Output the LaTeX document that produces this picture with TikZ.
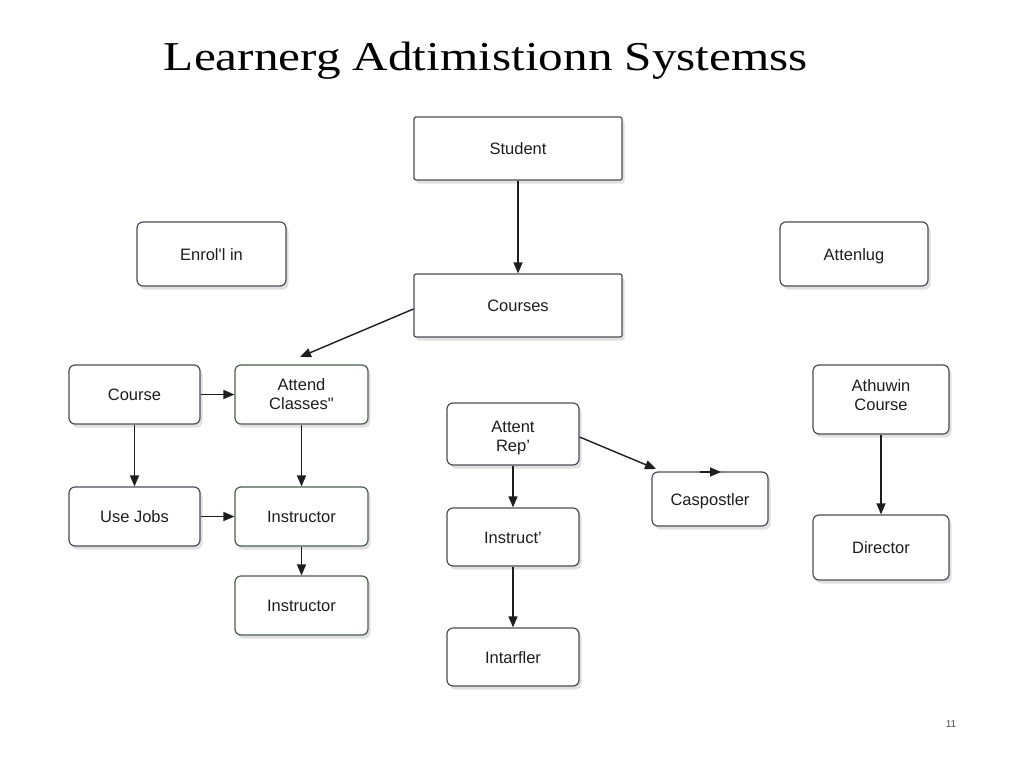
\documentclass[tikz,border=0pt]{standalone}
\usepackage{fontspec}
\setmainfont{Liberation Sans}
\newfontfamily\titlefont{Liberation Serif}
\usetikzlibrary{arrows.meta,shadows}
\definecolor{edge}{HTML}{4C4C58}
\definecolor{greenedge}{HTML}{4E5E4E}
\definecolor{ink}{HTML}{1E1E1E}
\tikzset{
  box/.style={draw=edge, line width=1.2pt, fill=white, rounded corners=6pt,
    text=ink, align=center, font=\fontsize{16.5}{19}\selectfont,
    inner sep=2pt,
    drop shadow={shadow xshift=2.5pt, shadow yshift=-3.5pt, opacity=0.12, fill=black}},
  oneline/.style={text height=12.5pt, text depth=0.5pt},
  sharpbox/.style={box, rounded corners=2pt},
  greenbox/.style={box, draw=greenedge},
  link/.style={draw=ink, line width=1.4pt, -{Triangle[length=11pt,width=9pt]}},
}
\begin{document}
\begin{tikzpicture}[x=1pt,y=-1pt]
\useasboundingbox (0,0) rectangle (1024,768);
\fill[white] (0,0) rectangle (1024,768);

% heading, set a little wide
\node[font=\titlefont\fontsize{41}{46}\selectfont, text=black] (title) at (486,61)
  {\scalebox{1.2}[1]{Learnerg Adtimistionn Systemss}};

% top row
\node[sharpbox, oneline, minimum width=208pt, minimum height=63pt] (student) at (518,148.5) {Student};
\node[sharpbox, oneline, minimum width=208pt, minimum height=63pt] (courses) at (518,305.5) {Courses};
\node[box, oneline, minimum width=149pt, minimum height=64pt] (enrol) at (211.5,254) {Enrol\textquotesingle{}l in};
\node[box, oneline, minimum width=148pt, minimum height=64pt] (attenlug) at (854,254) {Attenlug};

% left block
\node[box, oneline, minimum width=131pt, minimum height=59pt] (course) at (134.5,394.5) {Course};
\node[greenbox, minimum width=133pt, minimum height=59pt] (attend) at (301.5,394.5) {Attend\\Classes\textquotedbl};
\node[box, oneline, minimum width=131pt, minimum height=59pt] (usejobs) at (134.5,516.5) {Use Jobs};
\node[greenbox, oneline, minimum width=133pt, minimum height=59pt] (instr1) at (301.5,516.5) {Instructor};
\node[greenbox, oneline, minimum width=133pt, minimum height=59pt] (instr2) at (301.5,605.5) {Instructor};

% middle block
\node[box, text height=38pt, minimum width=132pt, minimum height=62pt] (rep) at (513,434) {Attent\\Rep\textquoteright};
\node[box, oneline, minimum width=132pt, minimum height=58pt] (instruct) at (513,537) {Instruct\textquoteright};
\node[box, oneline, minimum width=132pt, minimum height=58pt] (intarfler) at (513,657) {Intarfler};
\node[box, oneline, minimum width=116pt, minimum height=54pt] (caspostler) at (710,499) {Caspostler};

% right block
\node[box, text depth=9pt, minimum width=136pt, minimum height=69pt] (athuwin) at (881,399.5) {Athuwin\\Course};
\node[box, oneline, minimum width=136pt, minimum height=65pt] (director) at (881,547.5) {Director};

% page number
\node[font=\fontsize{10}{12}\selectfont, text=edge] (pageno) at (951,724) {11};

% free ends of the open connectors
\coordinate (coursesend) at (300,357);
\coordinate (repend) at (656,469);
\coordinate (caspstart) at (700,472);
\coordinate (caspend) at (721,472);

% connectors
\draw[link] (student) -- (courses);
\draw[link] (courses.west |- 0,309) -- (coursesend);
\draw[link] (course.east) -- (attend.west);
\draw[link] (course) -- (usejobs);
\draw[link] (attend) -- (instr1);
\draw[link] (usejobs.east) -- (instr1.west);
\draw[link] (instr1) -- (instr2);
\draw[link] (rep.east |- 0,437) -- (repend);
\draw[link] (caspstart) -- (caspend);
\draw[link] (rep) -- (instruct);
\draw[link] (instruct) -- (intarfler);
\draw[link] (athuwin) -- (director);
\end{tikzpicture}
\end{document}
